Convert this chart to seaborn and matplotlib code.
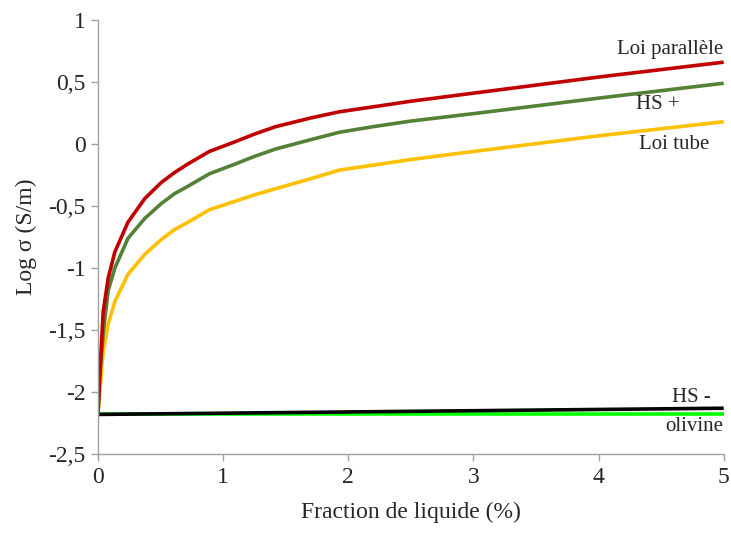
import numpy as np
import pandas as pd
import seaborn as sns
import matplotlib.pyplot as plt

# values
x_curve = [0, 0.016, 0.042, 0.082, 0.135, 0.24, 0.374, 0.506, 0.612, 0.72, 0.89, 1.1,
           1.25, 1.42, 1.7, 1.93, 2.2, 2.5, 3, 4, 5]
loi_parallele = [-2.18, -1.83, -1.35, -1.08, -0.87, -0.63, -0.44, -0.31, -0.23, -0.16,
                 -0.06, 0.02, 0.08, 0.14, 0.21, 0.26, 0.30, 0.345, 0.41, 0.54, 0.66]
hs_plus = [-2.18, -1.85, -1.52, -1.18, -1.0, -0.76, -0.6, -0.48, -0.40, -0.34,
           -0.24, -0.16, -0.10, -0.04, 0.035, 0.095, 0.14, 0.185, 0.245, 0.37, 0.49]
loi_tube = [-2.18, -1.98, -1.67, -1.45, -1.27, -1.05, -0.89, -0.77, -0.69, -0.63,
            -0.53, -0.46, -0.41, -0.36, -0.28, -0.21, -0.17, -0.125, -0.06, 0.066, 0.18]

x_flat = [0, 5]
hs_minus = [-2.18, -2.13]
olivine = [-2.18, -2.18]

y_ticks = [1, 0.5, 0, -0.5, -1, -1.5, -2, -2.5]
y_ticklabels = ["1", "0,5", "0", "-0,5", "-1", "-1,5", "-2", "-2,5"]
x_ticks = [0, 1, 2, 3, 4, 5]

sns.set_style("white")
plt.rcParams['font.family'] = ['Liberation Serif', 'DejaVu Serif']

fig = plt.figure(figsize=(7.31, 5.33), dpi=100)
ax = fig.add_axes([0.134, 0.148, 0.856, 0.8145])

lw = 2.6
sns.lineplot(x=x_flat, y=olivine, color='#00ff00', linewidth=lw, ax=ax)
sns.lineplot(x=x_flat, y=hs_minus, color='black', linewidth=lw, ax=ax)
sns.lineplot(x=x_curve, y=loi_tube, color='#ffc000', linewidth=lw, ax=ax)
sns.lineplot(x=x_curve, y=hs_plus, color='#538135', linewidth=lw, ax=ax)
sns.lineplot(x=x_curve, y=loi_parallele, color='#c00000', linewidth=lw, ax=ax)
for line in ax.lines:
    line.set_solid_capstyle('butt')
    line.set_solid_joinstyle('round')

ax.set_xlim(0, 5)
ax.set_ylim(-2.5, 1)
ax.set_yticks(y_ticks)
ax.set_yticklabels(y_ticklabels)
ax.set_xticks(x_ticks)
ax.tick_params(axis='both', labelsize=17, length=5, width=1, color='#a0a0a0',
               direction='out', left=True, bottom=True, pad=4)
for side in ['top', 'right']:
    ax.spines[side].set_visible(False)
for side in ['left', 'bottom']:
    ax.spines[side].set_color('#a0a0a0')
    ax.spines[side].set_linewidth(1)

ax.set_xlabel('Fraction de liquide (%)', fontsize=17, labelpad=10)
ax.set_ylabel('Log σ (S/m)', fontsize=17, labelpad=8)

fs = 15
ax.text(5, 0.76, 'Loi parallèle', ha='right', va='center', fontsize=fs)
ax.text(4.47, 0.32, 'HS +', ha='center', va='center', fontsize=fs)
ax.text(4.6, 0.0, 'Loi tube', ha='center', va='center', fontsize=fs)
ax.text(4.9, -2.04, 'HS -', ha='right', va='center', fontsize=fs)
ax.text(5, -2.28, 'olivine', ha='right', va='center', fontsize=fs)

fig.savefig('out.png', dpi=100)
